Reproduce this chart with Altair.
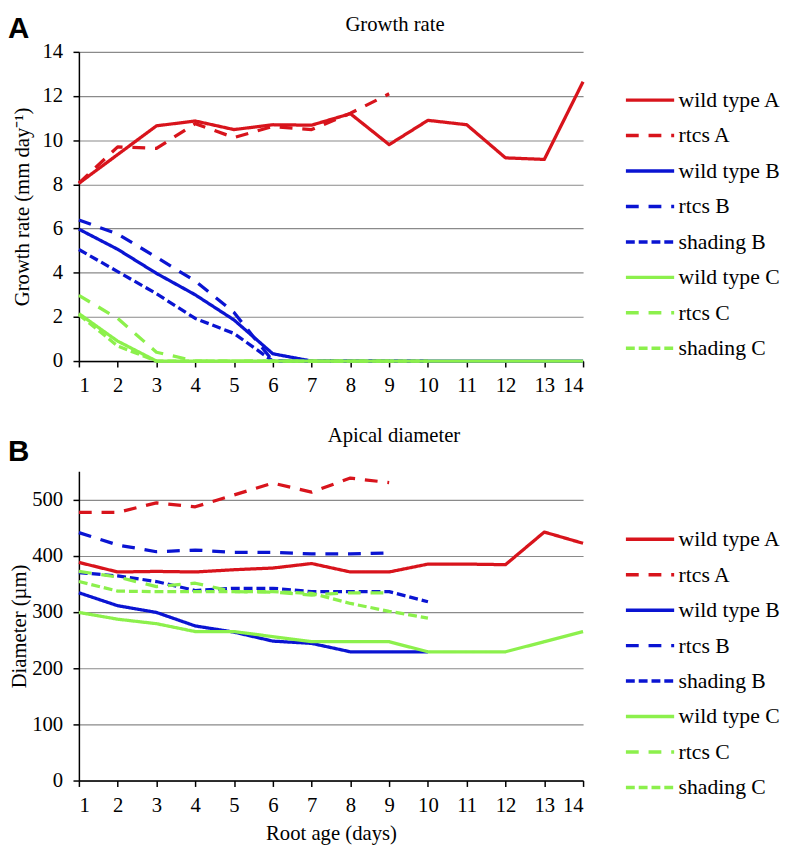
import altair as alt
import pandas as pd

series_order = ["wild type A", "rtcs A", "wild type B", "rtcs B", "shading B",
                "wild type C", "rtcs C", "shading C"]
series_colors = ["#D8141C", "#D8141C", "#0A14D2", "#0A14D2", "#0A14D2",
                 "#8CF04C", "#8CF04C", "#8CF04C"]
series_dashes = [[1, 0], [13, 10], [1, 0], [13, 10], [9, 4],
                 [1, 0], [13, 10], [9, 4]]

# Growth rate (mm day-1), by root age day 1..n
growth = {
    "wild type A": [8.05, 9.35, 10.65, 10.87, 10.48, 10.7, 10.68, 11.2, 9.8, 10.9, 10.7, 9.2, 9.13, 12.65],
    "rtcs A": [8.05, 9.7, 9.63, 10.75, 10.12, 10.62, 10.48, 11.22, 12.1],
    "wild type B": [5.97, 5.06, 3.97, 3.0, 1.86, 0.33, 0, 0, 0, 0, 0, 0, 0, 0],
    "rtcs B": [6.39, 5.75, 4.7, 3.62, 2.2, 0, 0, 0, 0],
    "shading B": [5.05, 4.05, 3.05, 1.93, 1.25, 0, 0, 0, 0, 0],
    "wild type C": [2.15, 0.9, 0, 0, 0, 0, 0, 0, 0, 0, 0, 0, 0, 0],
    "rtcs C": [2.97, 1.93, 0.4, 0, 0, 0, 0, 0, 0],
    "shading C": [2.1, 0.68, 0, 0, 0, 0, 0, 0, 0, 0],
}

# Apical diameter (um), by root age day 1..n
diameter = {
    "wild type A": [388, 371, 372, 371, 375, 378, 386, 371, 371, 385, 385, 384, 442, 422],
    "rtcs A": [477, 477, 494, 487, 508, 529, 513, 538, 530],
    "wild type B": [334, 311, 299, 275, 264, 248, 244, 229, 229, 229],
    "rtcs B": [441, 419, 407, 410, 406, 406, 403, 403, 405],
    "shading B": [370, 364, 354, 338, 342, 342, 336, 336, 336, 318],
    "wild type C": [299, 287, 279, 265, 265, 256, 247, 247, 247, 229, 229, 229, 247, 265],
    "rtcs C": [372, 362, 345, 351, 336, 335, 330, 334, 334],
    "shading C": [354, 337, 336, 336, 336, 336, 333, 315, 301, 289],
}

x_ticks = list(range(1, 15))
growth_ticks = [0, 2, 4, 6, 8, 10, 12, 14]
diam_ticks = [0, 100, 200, 300, 400, 500]


def to_long(d):
    rows = []
    for s in series_order:
        for i, v in enumerate(d[s]):
            rows.append({"series": s, "day": i + 1, "value": v})
    return pd.DataFrame(rows)


SERIF = "Liberation Serif"


def make_legend(legend_y):
    return alt.Legend(
        title=None, orient="none", legendX=568, legendY=legend_y,
        symbolType="M-2.45,0H2.45", symbolSize=400, symbolStrokeWidth=3.5,
        labelFont=SERIF, labelFontSize=22, labelColor="black",
        labelOffset=17, rowPadding=13, padding=0, labelLimit=300,
    )


def panel(df, letter, title, ytitle, ydomain, yticks, xtitle, legend_y,
          letter_y, title_x, title_y, ytitle_pad):
    color = alt.Color("series:N",
                      scale=alt.Scale(domain=series_order, range=series_colors),
                      legend=make_legend(legend_y))
    dash = alt.StrokeDash("series:N",
                          scale=alt.Scale(domain=series_order, range=series_dashes),
                          legend=make_legend(legend_y))
    x_axis = alt.Axis(
        values=x_ticks, format="d", grid=False, title=xtitle,
        labelPadding=8, titlePadding=8,
    )
    y_axis = alt.Axis(
        values=yticks, grid=True, title=ytitle,
        labelPadding=10.5, titlePadding=ytitle_pad,
    )
    lines = alt.Chart(df).mark_line(strokeWidth=3.3, strokeJoin="round").encode(
        x=alt.X("day:Q", scale=alt.Scale(domain=[1, 14], nice=False, zero=False), axis=x_axis),
        y=alt.Y("value:Q", scale=alt.Scale(domain=ydomain, nice=False), axis=y_axis),
        color=color,
        strokeDash=dash,
        detail="series:N",
    )
    lab = alt.Chart(pd.DataFrame({"label": [letter]})).mark_text(
        font="Liberation Sans", fontWeight="bold", fontSize=30,
        align="left", baseline="top", color="black",
    ).encode(text="label:N", x=alt.value(-72), y=alt.value(letter_y))
    ttl = alt.Chart(pd.DataFrame({"label": [title]})).mark_text(
        font=SERIF, fontSize=21, align="center", baseline="top", color="black",
    ).encode(text="label:N", x=alt.value(title_x), y=alt.value(title_y))
    return alt.layer(lines, lab, ttl).properties(width=512, height=314)


top = panel(to_long(growth), "A", "Growth rate", "Growth rate (mm day⁻¹)",
            [0, 14], growth_ticks, None, 37, -38, 321, -38, 10)
bottom = panel(to_long(diameter), "B", "Apical diameter", "Diameter (µm)",
               [0, 550], diam_ticks, "Root age (days)", 57, -35, 320, -47, 2)

chart = alt.vconcat(top, bottom, spacing=30).resolve_scale(
    color="independent", strokeDash="independent"
).resolve_legend(color="independent", strokeDash="independent").properties(
    padding=0
).configure(
    background="white", font=SERIF
).configure_view(
    stroke=None
).configure_axis(
    labelFont=SERIF, labelFontSize=21, labelColor="black",
    titleFont=SERIF, titleFontSize=21, titleFontWeight="normal", titleColor="black",
    domainColor="black", domainWidth=1.5, tickColor="black", tickWidth=1.5, tickSize=6,
    gridColor="#8a8a8a", gridWidth=1.2,
).configure_legend(
    labelFont=SERIF, labelFontSize=22, labelColor="black",
)

chart.save("out.html", embed_options={"renderer": "svg", "actions": False})
